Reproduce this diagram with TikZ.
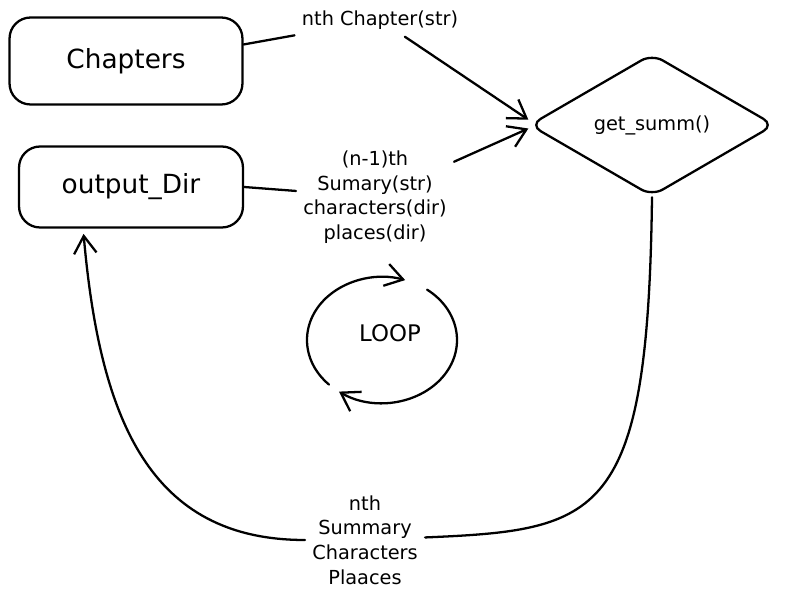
\documentclass[tikz,border=0pt]{standalone}
\usepackage{fontspec}
\setmainfont{DejaVu Sans}
\usetikzlibrary{positioning, shapes.geometric, arrows.meta, calc}

\begin{document}
\begin{tikzpicture}[x=0.02cm, y=0.02cm,
            box/.style={draw=black, line width=1.3pt, rectangle, rounded corners=12pt, font=\fontsize{15}{18}\selectfont},
            decision/.style={draw=black, line width=1.3pt, diamond, aspect=1.7, rounded corners=7pt, minimum width=4.9cm, minimum height=2.85cm, font=\fontsize{11}{14}\selectfont},
            edge/.style={line width=1.3pt, line cap=round, >={Straight Barb[length=3.5mm, width=4.5mm]}},
            varlabel/.style={font=\fontsize{11}{14}\selectfont, align=center, inner sep=4pt}
        ]
        \useasboundingbox (0,0) rectangle (785,602);

        % Knoten
        \node[box, minimum width=4.66cm, minimum height=1.74cm] (chap) at (126,541) {Chapters};
        \node[box, minimum width=4.48cm, minimum height=1.62cm] (outdir) at (131,415) {output\_Dir};
        \node[decision] (summ) at (652,477) {get\_summ()};

        \node[varlabel] (lblchap) at (380,582) {nth Chapter(str)};
        \node[varlabel] (lbldir) at (375,405) {(n-1)th\\Sumary(str)\\characters(dir)\\places(dir)};
        \node[varlabel] (lblnth) at (365,62) {nth\\Summary\\Characters\\Plaaces};

        \coordinate (loopc) at (382,262);
        \node[font=\fontsize{13}{16}\selectfont] (looptxt) at (390,269) {LOOP};

        % Kanten
        \draw[edge] (chap.8) -- (lblchap);
        \draw[edge, ->] (lblchap) -- ([yshift=3pt]summ.west);
        \draw[edge] (outdir.east) -- (lbldir);
        \draw[edge, ->] (lbldir) -- ([yshift=-2pt]summ.west);
        \draw[edge] (summ.south) .. controls (648,82) and (600,72) .. (lblnth);
        \draw[edge, ->, shorten >=3pt] (lblnth) .. controls (150,62) and (100,182) .. (outdir.221);

        % Schleife
        \draw[edge, ->] (loopc) ++(225:75 and 63) arc[start angle=225, end angle=72, x radius=75, y radius=63];
        \draw[edge, ->] (loopc) ++(53:75 and 63) arc[start angle=53, end angle=-125, x radius=75, y radius=63];

    \end{tikzpicture}
\end{document}
